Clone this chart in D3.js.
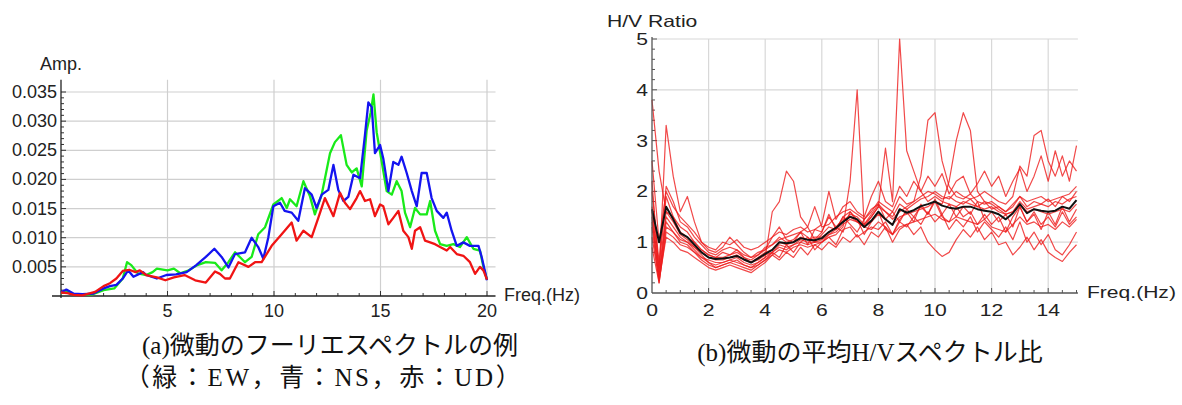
<!DOCTYPE html>
<html>
<head>
<meta charset="utf-8">
<script src="https://cdn.jsdelivr.net/npm/d3@7"></script>
<style>
  body { margin: 0; background: #fff; }
  svg { display: block; }
</style>
</head>
<body>
<div id="chart"></div>
<script>
// (a) Fourier spectra: [frequency Hz, amplitude]
const ewSpectrum = [
  [0,0.0005],[0.3,0.0007],[0.6,0.0003],[1.0,0.0002],[1.5,0.0003],[2.0,0.001],[2.5,0.0013],[2.9,0.003],
  [3.1,0.0058],[3.3,0.0053],[3.6,0.0039],[4.0,0.0036],[4.3,0.0041],[4.5,0.0047],[5.0,0.0044],[5.3,0.0047],
  [5.6,0.0039],[6.0,0.0044],[6.4,0.0053],[6.8,0.0058],[7.23,0.0057],[7.54,0.0044],[7.86,0.0058],[8.17,0.0075],
  [8.64,0.0058],[8.95,0.0067],[9.26,0.0106],[9.58,0.0118],[9.97,0.0157],[10.36,0.0168],[10.6,0.0151],[10.75,0.0166],
  [11.06,0.0154],[11.38,0.0197],[11.69,0.0171],[11.92,0.014],[12.24,0.0174],[12.63,0.0245],[12.86,0.0264],[13.14,0.0276],
  [13.41,0.0225],[13.65,0.0212],[13.88,0.0219],[14.12,0.0188],[14.35,0.0284],[14.54,0.0315],[14.67,0.0346],[14.82,0.0281],
  [15.06,0.023],[15.29,0.018],[15.53,0.0174],[15.76,0.0197],[15.99,0.018],[16.15,0.0143],[16.39,0.0118],[16.62,0.0151],
  [16.86,0.014],[17.17,0.014],[17.33,0.0163],[17.56,0.0112],[17.8,0.0089],[18.11,0.0086],[18.42,0.0089],[18.73,0.0084],
  [19.05,0.0101],[19.36,0.0081],[19.67,0.0078],[19.83,0.005],[20.0,0.0028]
];
const nsSpectrum = [
  [0,0.0006],[0.25,0.0011],[0.6,0.0004],[1.0,0.0003],[1.5,0.0004],[2.0,0.0013],[2.3,0.0017],[2.6,0.0019],
  [2.9,0.003],[3.15,0.0044],[3.4,0.0033],[3.85,0.0041],[4.0,0.0036],[4.5,0.003],[4.95,0.0036],[5.4,0.0037],
  [5.9,0.0041],[6.35,0.0053],[6.8,0.0067],[7.2,0.0081],[7.54,0.0067],[7.86,0.0049],[8.17,0.0072],[8.64,0.0075],
  [8.95,0.01],[9.26,0.0084],[9.5,0.0064],[9.73,0.01],[9.97,0.0154],[10.28,0.016],[10.5,0.0146],[10.83,0.0143],
  [11.14,0.0129],[11.45,0.0185],[11.77,0.0174],[12.0,0.0151],[12.24,0.0174],[12.55,0.0182],[12.79,0.0225],[13.02,0.0182],
  [13.26,0.0163],[13.49,0.017],[13.73,0.0208],[14.04,0.0202],[14.27,0.0276],[14.43,0.0332],[14.59,0.0324],[14.74,0.0245],
  [14.98,0.0259],[15.13,0.0236],[15.37,0.018],[15.6,0.023],[15.84,0.0225],[15.99,0.0239],[16.23,0.0211],[16.47,0.018],
  [16.7,0.0154],[16.93,0.0211],[17.17,0.0211],[17.4,0.0168],[17.64,0.0146],[17.95,0.0134],[18.11,0.0143],[18.34,0.0112],
  [18.58,0.0086],[18.89,0.0092],[19.2,0.0086],[19.6,0.0086],[19.75,0.0067],[20.0,0.0027]
];
const udSpectrum = [
  [0,0.0006],[0.3,0.0005],[0.6,0.0002],[1.0,0.0001],[1.6,0.0007],[2.0,0.0017],[2.3,0.0022],[2.6,0.003],
  [2.9,0.0043],[3.2,0.0045],[3.5,0.0041],[3.7,0.0044],[4.0,0.0036],[4.5,0.0032],[4.9,0.0027],[5.3,0.0032],
  [5.8,0.0036],[6.3,0.0027],[6.8,0.0023],[7.23,0.0042],[7.46,0.0038],[7.7,0.003],[7.93,0.003],[8.33,0.0058],
  [8.8,0.005],[9.11,0.0058],[9.42,0.0058],[9.89,0.0086],[10.36,0.0106],[10.83,0.0126],[11.06,0.0095],[11.38,0.0112],
  [11.77,0.0101],[12.08,0.0134],[12.39,0.0168],[12.79,0.0137],[13.1,0.0177],[13.33,0.016],[13.57,0.0149],[13.88,0.0168],
  [14.04,0.018],[14.27,0.0163],[14.51,0.0166],[14.74,0.0137],[14.98,0.0157],[15.13,0.0154],[15.37,0.0123],[15.6,0.0134],
  [15.84,0.0146],[16.07,0.0112],[16.31,0.0101],[16.47,0.0081],[16.62,0.0112],[16.86,0.0118],[17.09,0.0095],[17.33,0.0092],
  [17.56,0.0089],[17.8,0.0084],[18.11,0.0078],[18.27,0.0084],[18.58,0.0072],[18.89,0.0069],[19.2,0.0058],[19.44,0.0038],
  [19.67,0.005],[19.83,0.0044],[20.0,0.0028]
];
const ampTicks = [0.005, 0.010, 0.015, 0.020, 0.025, 0.030, 0.035];
const ampTickLabels = ["0.005", "0.010", "0.015", "0.020", "0.025", "0.030", "0.035"];
const ampFreqTicks = [5, 10, 15, 20];

// (b) H/V spectral ratios, all on the same frequency grid
const hvFreq = [
  0,0.25,0.5,0.75, 1,1.25,1.5,1.75, 2,2.25,2.5,2.75, 3,3.25,3.5,3.75, 4,4.25,4.5,4.75,
  5,5.25,5.5,5.75, 6,6.25,6.5,6.75, 7,7.25,7.5,7.75, 8,8.25,8.5,8.75, 9,9.25,9.5,9.75,
  10,10.25,10.5,10.75, 11,11.25,11.5,11.75, 12,12.25,12.5,12.75, 13,13.25,13.5,13.75, 14,14.25,14.5,14.75, 15
];
const hvRatios = [
  [3.8,2.4,1.6,1.5, 1.3,1.2,1.0,0.85, 0.75,0.7,0.8,0.75, 0.85,0.7,0.65,0.75, 0.9,0.95,1.1,1.0,
   1.05,1.2,1.1,1.0, 1.15,1.3,1.25,1.5, 1.6,1.4,1.35,1.5, 1.7,1.6,1.45,1.6, 1.7,1.8,1.9,2.0,
   1.95,1.85,1.9,1.8, 1.75,1.85,1.7,1.8, 1.65,1.7,1.6,1.75, 1.9,1.7,1.8,1.75, 1.85,1.7,1.9,1.8, 2.0],
  [2.2,0.4,3.3,2.3, 1.6,1.9,1.4,1.0, 0.85,0.8,0.9,1.1, 0.95,0.8,0.7,0.8, 0.85,1.1,1.3,1.05,
   1.0,1.2,0.95,1.25, 1.2,1.5,1.3,1.2, 1.6,1.45,1.15,1.4, 1.6,1.25,1.15,1.45, 1.6,1.4,1.75,1.55,
   1.8,1.5,1.4,1.7, 1.5,1.6,1.35,1.55, 1.35,1.5,1.2,1.5, 1.7,1.4,1.55,1.25, 1.6,1.35,1.7,1.4, 1.65],
  [1.5,0.3,1.5,1.3, 1.1,1.0,0.9,0.75, 0.6,0.55,0.6,0.65, 0.6,0.55,0.5,0.6, 0.7,1.6,1.8,2.4,
   2.2,1.5,1.3,1.05, 1.2,1.55,1.25,1.5, 1.35,1.2,1.45,1.65, 1.75,1.45,1.6,1.4, 1.65,1.5,1.7,1.55,
   1.85,1.55,1.75,1.5, 1.7,1.55,1.8,1.45, 1.6,1.4,1.55,1.3, 1.7,1.4,1.6,1.35, 1.5,1.3,1.6,1.35, 1.5],
  [1.3,0.2,1.2,1.1, 0.95,0.9,0.8,0.7, 0.6,0.5,0.55,0.6, 0.55,0.5,0.45,0.55, 0.65,0.75,0.85,0.8,
   0.9,0.95,0.9,0.95, 1.0,1.1,1.15,1.3, 2.2,4.0,1.3,1.25, 1.4,1.3,1.15,1.3, 1.35,1.4,1.45,1.5,
   1.55,1.45,1.4,1.5, 1.45,1.4,1.35,1.45, 1.3,1.25,1.2,1.35, 1.5,1.35,1.4,1.3, 1.35,1.25,1.4,1.3, 1.45],
  [1.7,0.5,1.9,1.5, 1.2,1.1,1.0,0.85, 0.75,0.7,0.7,0.75, 0.8,0.7,0.6,0.7, 0.8,0.85,1.0,0.95,
   1.0,1.1,1.05,1.1, 1.1,1.2,1.3,1.45, 1.5,1.4,1.3,1.5, 1.7,2.85,1.8,5.0, 2.8,2.4,2.0,1.8,
   1.9,1.8,1.75,1.7, 1.8,1.75,1.7,1.65, 1.7,1.6,1.55,1.6, 1.8,1.65,1.7,1.75, 1.7,1.8,1.75,1.85, 1.9],
  [2.0,0.6,2.1,1.8, 1.4,1.3,1.1,0.95, 0.8,0.75,0.85,0.9, 0.85,0.75,0.7,0.75, 0.85,0.95,1.05,1.1,
   1.15,1.2,1.3,1.7, 1.3,1.35,1.5,1.6, 1.65,1.55,1.45,1.6, 1.8,1.7,1.6,1.9, 1.75,1.8,2.3,3.4,
   3.55,2.6,2.1,1.9, 1.85,1.95,1.8,1.75, 1.8,1.7,1.6,1.7, 1.9,1.8,1.85,1.9, 1.8,1.85,1.9,1.95, 2.1],
  [1.6,0.4,1.6,1.4, 1.15,1.05,0.9,0.8, 0.7,0.65,0.65,0.7, 0.75,0.65,0.6,0.65, 0.75,0.8,0.95,0.9,
   0.95,1.05,1.0,1.0, 1.05,1.15,1.2,1.35, 1.45,1.4,1.3,1.4, 1.55,1.45,1.35,1.5, 1.55,1.6,1.65,1.7,
   1.8,1.75,2.2,3.0, 3.55,3.2,2.0,1.8, 1.75,1.65,1.55,1.6, 1.75,1.6,1.65,1.6, 1.55,1.6,1.65,1.6, 1.75],
  [1.4,0.3,1.4,1.2, 1.05,1.0,0.85,0.7, 0.65,0.6,0.6,0.65, 0.7,0.6,0.55,0.6, 0.7,0.8,0.9,0.85,
   0.95,1.0,0.95,1.0, 1.0,1.15,1.25,1.4, 1.55,1.5,1.35,1.55, 1.75,1.6,1.5,1.75, 1.65,1.75,1.85,1.9,
   2.0,1.9,1.85,2.0, 1.9,1.85,1.9,2.0, 1.9,1.8,1.75,1.9, 2.5,2.3,3.1,3.2, 2.6,2.3,2.7,2.2, 2.9],
  [1.1,0.25,1.1,1.0, 0.85,0.8,0.7,0.6, 0.5,0.45,0.5,0.55, 0.5,0.45,0.4,0.5, 0.6,0.75,0.65,0.8,
   0.7,0.9,0.75,0.95, 0.85,1.0,0.9,1.1, 1.0,1.15,0.95,1.2, 1.1,1.3,1.0,1.25, 1.35,1.15,1.3,1.0,
   0.85,0.72,0.8,1.05, 1.25,1.1,1.3,1.05, 1.2,0.95,1.0,0.75, 0.9,1.1,0.85,1.05, 0.8,0.7,0.62,0.8, 0.95],
  [2.6,1.0,2.0,1.7, 1.5,1.35,1.2,1.0, 0.9,0.85,1.0,0.95, 1.05,0.9,0.85,0.9, 1.0,1.1,1.2,1.15,
   1.25,1.3,1.2,1.25, 1.35,2.0,1.45,1.7, 1.8,1.6,1.5,1.9, 2.2,1.8,1.7,2.1, 1.9,2.2,2.0,2.3,
   2.1,2.35,1.95,2.2, 2.3,1.95,2.15,2.4, 2.1,2.3,1.9,2.2, 2.45,2.0,2.3,2.7, 2.2,2.8,2.3,2.6, 2.4],
  [0.9,0.2,1.3,1.2, 1.0,0.95,0.8,0.65, 0.55,0.5,0.55,0.6, 0.65,0.55,0.5,0.55, 0.65,0.8,0.7,0.95,
   0.8,1.0,1.1,0.85, 1.0,1.1,0.95,1.25, 1.3,1.1,1.2,1.3, 1.25,1.4,1.15,1.4, 1.3,1.5,1.35,1.6,
   1.4,1.55,1.25,1.45, 1.3,1.5,1.2,1.4, 1.25,1.1,1.3,1.05, 1.4,1.0,1.2,0.95, 1.15,0.85,0.75,0.95, 1.2]
];
const hvMean = [
  1.65,1.0,1.7,1.45, 1.18,1.1,0.95,0.8, 0.7,0.67,0.68,0.7, 0.73,0.66,0.6,0.68, 0.77,0.85,1.0,0.98,
  1.0,1.08,1.05,1.04, 1.08,1.2,1.28,1.4, 1.5,1.45,1.3,1.42, 1.6,1.45,1.34,1.65, 1.58,1.63,1.71,1.75,
  1.8,1.72,1.68,1.66, 1.7,1.7,1.65,1.62, 1.6,1.55,1.45,1.57, 1.75,1.57,1.65,1.62, 1.6,1.62,1.7,1.66, 1.83
];
const hvTicks = [0, 1, 2, 3, 4, 5];
const hvFreqTicks = [0, 2, 4, 6, 8, 10, 12, 14];

const width = 1182, height = 405;
const sansFont = "'Liberation Sans', Arial, sans-serif";
const capFont = "'Liberation Serif', 'Times New Roman', 'Noto Sans CJK JP', serif";

const svg = d3.select("#chart").append("svg")
  .attr("width", width)
  .attr("height", height);
svg.append("rect").attr("width", width).attr("height", height).attr("fill", "#fff");

// text helper, sx stretches glyphs horizontally (the right panel is a stretched bitmap)
function label(g, x, y, str, size, anchor, sx) {
  return g.append("text")
    .attr("transform", "translate(" + x + "," + y + ") scale(" + (sx || 1) + ",1)")
    .attr("text-anchor", anchor || "start")
    .attr("font-family", sansFont)
    .attr("font-size", size)
    .attr("fill", "#222")
    .text(str);
}

// ---------- (a) Fourier spectra ----------
const xA = d3.scaleLinear().domain([0, 20]).range([61, 487]);
const yA = d3.scaleLinear().domain([0, 0.035]).range([296, 92]);
const gA = svg.append("g");
const aTop = yA(0.0371), aRight = xA(20.4);

gA.selectAll("line.hgrid").data(ampTicks).enter().append("line")
  .attr("x1", xA(0)).attr("x2", aRight)
  .attr("y1", d => yA(d)).attr("y2", d => yA(d))
  .attr("stroke", "#cfcfcf").attr("stroke-width", 1.2);
gA.selectAll("line.vgrid").data(ampFreqTicks).enter().append("line")
  .attr("x1", d => xA(d)).attr("x2", d => xA(d))
  .attr("y1", yA(0)).attr("y2", aTop)
  .attr("stroke", "#cfcfcf").attr("stroke-width", 1.2);

// minor + major ticks pointing inward
gA.selectAll("line.ytick").data(yA.ticks(35).filter(d => d > 0)).enter().append("line")
  .attr("x1", xA(0)).attr("x2", d => xA(0) + (Math.abs(d * 200 - Math.round(d * 200)) < 1e-6 ? 5 : 3))
  .attr("y1", d => yA(d)).attr("y2", d => yA(d))
  .attr("stroke", "#333").attr("stroke-width", 1);
gA.selectAll("line.xtick").data(xA.ticks(20).filter(d => d > 0)).enter().append("line")
  .attr("x1", d => xA(d)).attr("x2", d => xA(d))
  .attr("y1", yA(0)).attr("y2", d => yA(0) - (d % 5 === 0 ? 5 : 3))
  .attr("stroke", "#333").attr("stroke-width", 1);

gA.append("line").attr("x1", xA(0)).attr("x2", xA(0)).attr("y1", aTop).attr("y2", yA(0) + 2)
  .attr("stroke", "#222").attr("stroke-width", 1.3);
gA.append("line").attr("x1", 52).attr("x2", aRight).attr("y1", yA(0)).attr("y2", yA(0))
  .attr("stroke", "#222").attr("stroke-width", 1.3);

ampTicks.forEach((t, i) => label(gA, 57, yA(t) + 6, ampTickLabels[i], 18, "end"));
ampFreqTicks.forEach(t => label(gA, xA(t), 317, String(t), 18, "middle"));
label(gA, 40, 70, "Amp.", 18, "start");
label(gA, 504, 301, "Freq.(Hz)", 18, "start");

const lineA = d3.line().x(d => xA(d[0])).y(d => yA(d[1]));
[[ewSpectrum, "#19ea19"], [nsSpectrum, "#1414f0"], [udSpectrum, "#f01414"]].forEach(s => {
  gA.append("path").datum(s[0])
    .attr("d", lineA)
    .attr("fill", "none")
    .attr("stroke", s[1])
    .attr("stroke-width", 2.3)
    .attr("stroke-linejoin", "round");
});

// ---------- (b) H/V ratio ----------
const xB = d3.scaleLinear().domain([0, 15]).range([652, 1076.5]);
const yB = d3.scaleLinear().domain([0, 5]).range([293, 39]);
const gB = svg.append("g");
const bRight = xB(15.05);

gB.selectAll("line.hgrid").data(hvTicks.filter(d => d > 0)).enter().append("line")
  .attr("x1", xB(0)).attr("x2", bRight)
  .attr("y1", d => yB(d)).attr("y2", d => yB(d))
  .attr("stroke", "#d8d8d8").attr("stroke-width", 1.2);
gB.selectAll("line.vgrid").data(hvFreqTicks.filter(d => d > 0)).enter().append("line")
  .attr("x1", d => xB(d)).attr("x2", d => xB(d))
  .attr("y1", yB(0)).attr("y2", yB(5))
  .attr("stroke", "#d8d8d8").attr("stroke-width", 1.2);

gB.selectAll("line.ytick").data(yB.ticks(25).filter(d => d > 0)).enter().append("line")
  .attr("x1", xB(0)).attr("x2", d => xB(0) + (Number.isInteger(d) ? 5 : 3))
  .attr("y1", d => yB(d)).attr("y2", d => yB(d))
  .attr("stroke", "#555").attr("stroke-width", 1);
gB.selectAll("line.xtick").data(xB.ticks(30).filter(d => d > 0)).enter().append("line")
  .attr("x1", d => xB(d)).attr("x2", d => xB(d))
  .attr("y1", yB(0)).attr("y2", d => yB(0) - (d % 2 === 0 ? 5 : 3))
  .attr("stroke", "#555").attr("stroke-width", 1);

const lineB = d3.line().x((d, i) => xB(hvFreq[i])).y(d => yB(d));
hvRatios.forEach(r => {
  gB.append("path").datum(r)
    .attr("d", lineB)
    .attr("fill", "none")
    .attr("stroke", "#ee1c1c")
    .attr("stroke-opacity", 0.8)
    .attr("stroke-width", 1.2)
    .attr("stroke-linejoin", "round");
});
gB.append("path").datum(hvMean)
  .attr("d", lineB)
  .attr("fill", "none")
  .attr("stroke", "#111")
  .attr("stroke-width", 2)
  .attr("stroke-linejoin", "round");

gB.append("line").attr("x1", xB(0)).attr("x2", xB(0)).attr("y1", yB(5) - 2).attr("y2", yB(0))
  .attr("stroke", "#555").attr("stroke-width", 1.3);
gB.append("line").attr("x1", xB(0)).attr("x2", bRight).attr("y1", yB(0)).attr("y2", yB(0))
  .attr("stroke", "#555").attr("stroke-width", 1.3);

hvTicks.forEach(t => label(gB, 648, yB(t) + 6, String(t), 16.5, "end", 1.28));
hvFreqTicks.forEach(t => label(gB, xB(t), 316, String(t), 16.5, "middle", 1.28));
label(gB, 607, 27, "H/V Ratio", 16.5, "start", 1.28);
label(gB, 1087, 298, "Freq.(Hz)", 17, "start", 1.24);

// ---------- captions ----------
function caption(x, y, str, spacing) {
  svg.append("text")
    .attr("x", x).attr("y", y)
    .attr("text-anchor", "middle")
    .attr("font-family", capFont)
    .attr("font-size", 25)
    .attr("letter-spacing", spacing || 0)
    .attr("fill", "#111")
    .text(str);
}
caption(330, 354, "(a)微動のフーリエスペクトルの例");
caption(324, 386, "（緑：EW，青：NS，赤：UD）", 2.6);
caption(870, 361, "(b)微動の平均H/Vスペクトル比");
</script>
</body>
</html>
